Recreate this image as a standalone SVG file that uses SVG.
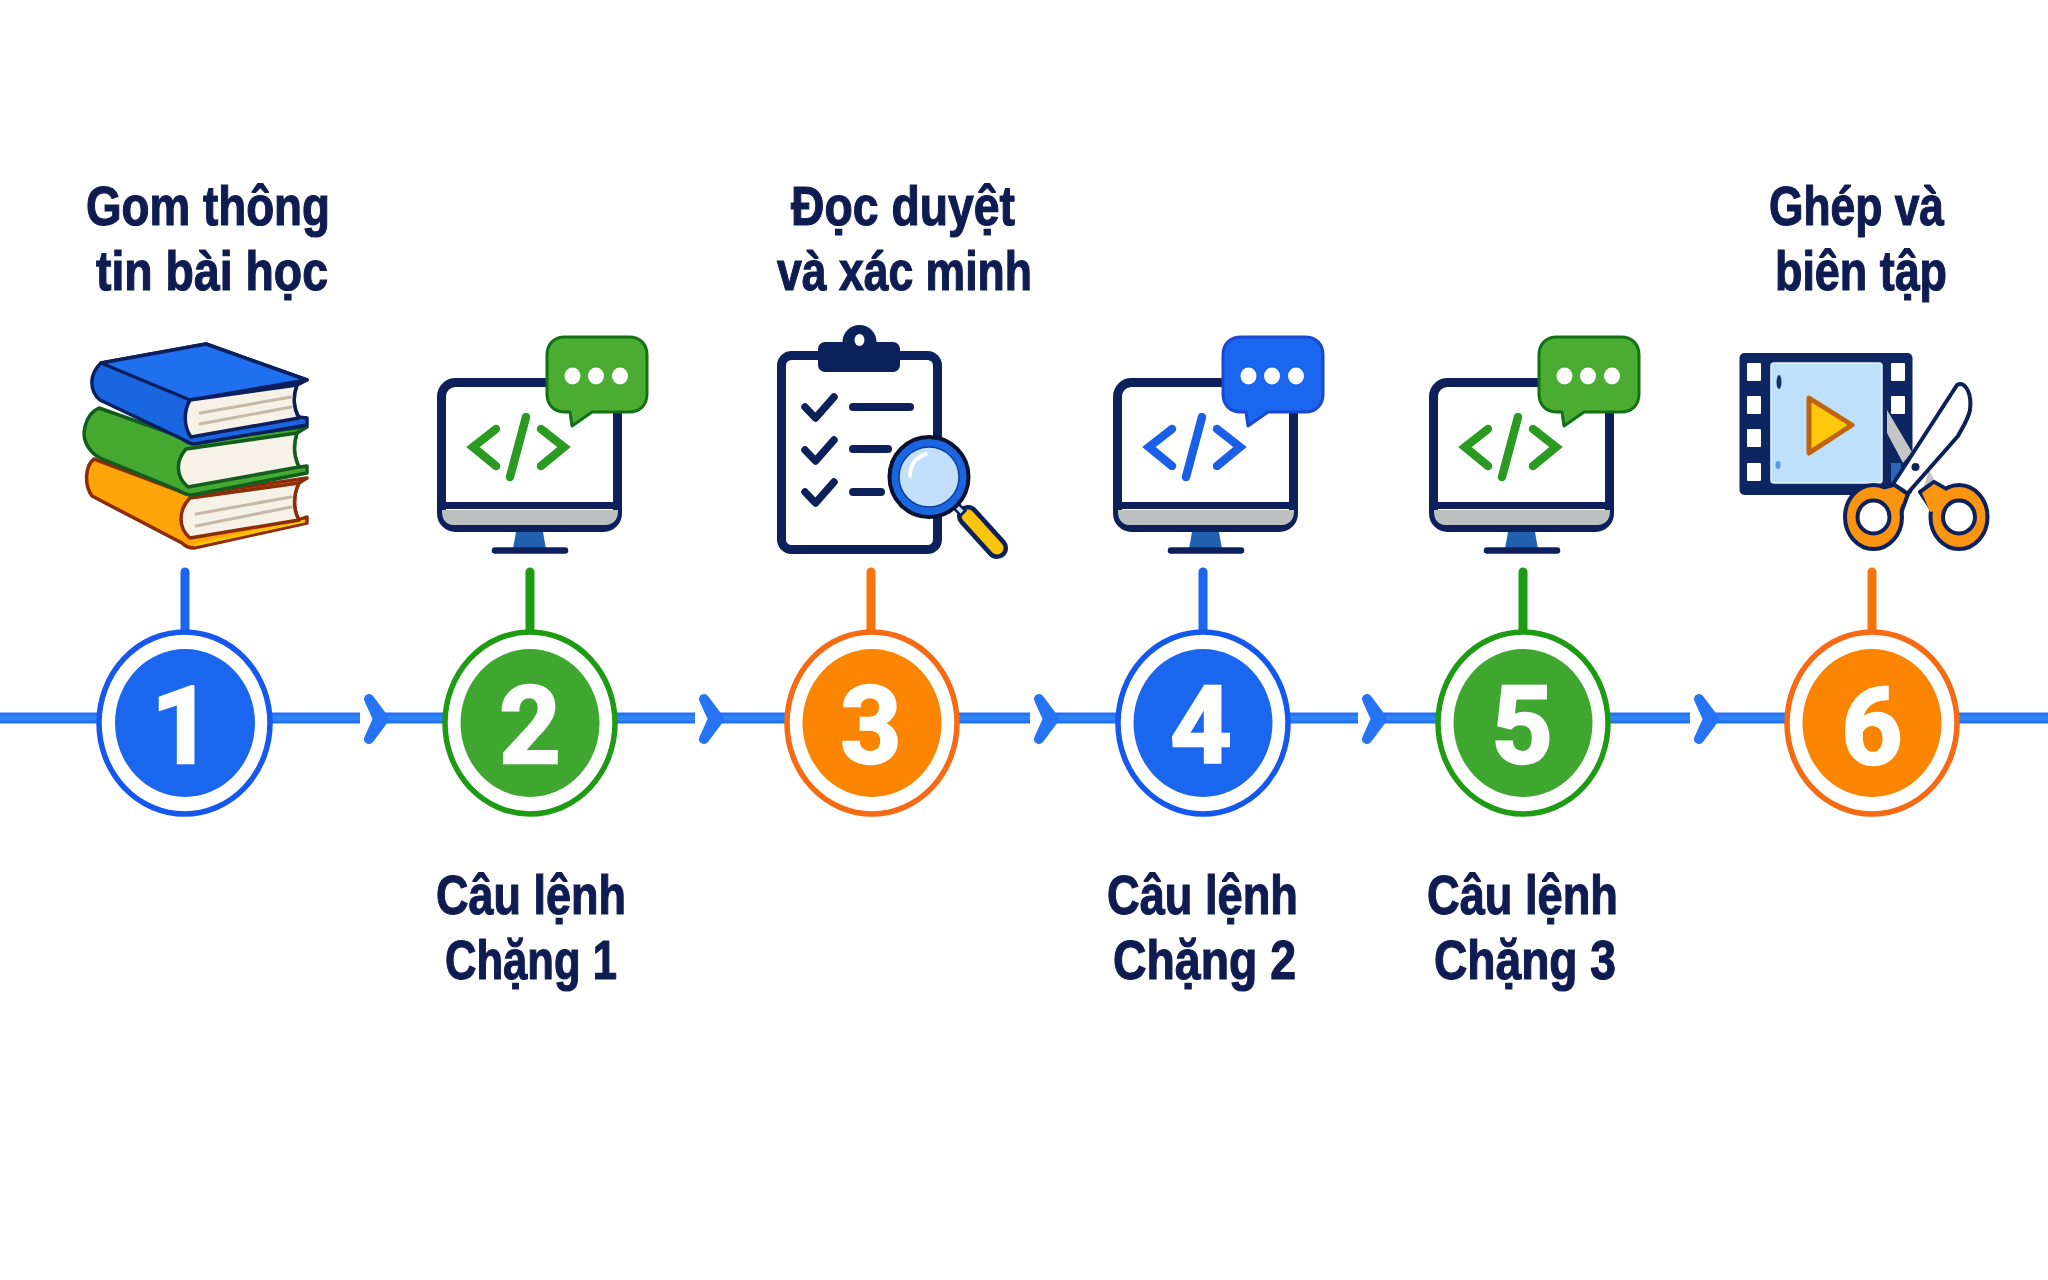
<svg xmlns="http://www.w3.org/2000/svg" xmlns:xlink="http://www.w3.org/1999/xlink" width="2048" height="1280" viewBox="0 0 2048 1280">
<style>
.lbl{font-family:"Liberation Sans",Arial,sans-serif;font-weight:700;font-size:56px;fill:#0f1c52;stroke:#0f1c52;stroke-width:1.2;text-anchor:start}
.num{font-family:Roboto,"Liberation Sans",sans-serif;font-weight:700;font-size:107px;fill:#fff;stroke:#fff;stroke-width:2.5;text-anchor:middle}
.line{stroke:#2272f2;stroke-width:11;fill:none}
.line2{stroke:#3085f9;stroke-width:5;fill:none}
.chev{fill:#2674f4;stroke:#2674f4;stroke-width:10;stroke-linejoin:round}
.stem{stroke-width:9;stroke-linecap:round;fill:none}
.ring{fill:#fff;stroke-width:5.5}
.blue .ring{stroke:#1558ee}.blue .disc{fill:#1a66ee}.blue .stem{stroke:#1a66ee}
.green .ring{stroke:#1f9a14}.green .disc{fill:#3fa72f}.green .stem{stroke:#1f9a14}
.orange .ring{stroke:#f56a12}.orange .disc{fill:#fb8500}.orange .stem{stroke:#f9750c}
.nv{stroke:#0c215c;fill:none;stroke-linecap:round;stroke-linejoin:round}
.pg{fill:#f7f2e8;stroke-width:3.5;stroke-linejoin:round}
.pl{stroke:#c4b9a8;stroke-width:3;stroke-linecap:round;fill:none}
.code{stroke:var(--c);stroke-width:8.5;stroke-linecap:round;stroke-linejoin:miter;fill:none}
.mg{--c:#2a9a20;--e:#157015;--f:#4aac30}
.mb{--c:#1a5fe8;--e:#1a48d0;--f:#1a66ee}
.o{fill:#fb9410}
.ol{fill:#fb9410;stroke:#0c215c;stroke-width:4;stroke-linejoin:round}
</style>
<defs>
<path id="chevron" class="chev" d="M-21 -20L-6 0L-21 20L-12 0Z"/>
<g id="monitor">
<rect x="441.500" y="382.500" width="176" height="145" rx="14" fill="#fff" stroke="#0c215c" stroke-width="9"/>
<path d="M442 510H618V512C618 520 612 525 606 525H453C447 525 442 520 442 512Z" fill="#bcbfc0"/>
<path d="M440 505.500H619" stroke="#0c215c" stroke-width="7" fill="none"/>
<path d="M516 532H543L546 549H513Z" fill="#2060ae"/>
<path d="M495 550.500H565" stroke="#0c215c" stroke-width="6.500" stroke-linecap="round" fill="none"/>
<path class="code" d="M496 429L473 447L496 466M526 417L510 477M541 429L564 447L541 466"/>
<path d="M565 337H629C640 337 647 344 647 355V394C647 405 640 412 629 412H592L572 426L570 412H565C554 412 547 405 547 394V355C547 344 554 337 565 337Z" fill="var(--f)" stroke="var(--e)" stroke-width="3" stroke-linejoin="round"/>
<ellipse cx="572.500" cy="376" rx="8" ry="8.500" fill="#fff"/><ellipse cx="596" cy="376" rx="8" ry="8.500" fill="#fff"/><ellipse cx="620" cy="376" rx="8" ry="8.500" fill="#fff"/>
</g>
</defs>
<rect width="2048" height="1280" fill="#fff"/>
<g id="connectors">
<path class="line" d="M0 718H97M272 718H360M384 718H443M617 718H695M719 718H785M959 718H1030M1054 718H1116M1290 718H1358M1382 718H1436M1610 718H1690M1714 718H1786M1959 718H2048"/>
<path class="line2" d="M0 718H97M272 718H360M384 718H443M617 718H695M719 718H785M959 718H1030M1054 718H1116M1290 718H1358M1382 718H1436M1610 718H1690M1714 718H1786M1959 718H2048"/>
<use href="#chevron" xlink:href="#chevron" x="390" y="719"/>
<use href="#chevron" xlink:href="#chevron" x="725" y="719"/>
<use href="#chevron" xlink:href="#chevron" x="1060" y="719"/>
<use href="#chevron" xlink:href="#chevron" x="1388" y="719"/>
<use href="#chevron" xlink:href="#chevron" x="1720" y="719"/>
</g>
<g id="node1" class="blue">
<text class="lbl" x="86" y="225" textLength="244" lengthAdjust="spacingAndGlyphs">Gom thông</text>
<text class="lbl" x="96" y="290" textLength="232" lengthAdjust="spacingAndGlyphs">tin bài học</text>
<g id="books">
<path d="M94 459C85 466 84 485 92 496L182 543C186 547 190 548 194 548L307 523L307 517L299 520C293 510 293 495 299 483L307 478L190 495Z" fill="#ffa50a" stroke="#8c2c0a" stroke-width="3.500" stroke-linejoin="round"/>
<path d="M194 545L305 521" stroke="#ffc400" stroke-width="3" fill="none"/>
<path class="pg" stroke="#8c2c0a" d="M299 483L190 498C178 510 178 528 190 538L299 520C293 510 293 495 299 483Z"/>
<path class="pl" d="M196 514L291 497M196 526L291 507"/>
<path d="M99 408C84 415 82 435 86 443C90 452 95 455 100 458L178 490C184 494 188 495 192 495L307 473L307 466L299 467C293 455 293 445 297 433L307 427L190 440Z" fill="#45a830" stroke="#125c1e" stroke-width="3.500" stroke-linejoin="round"/>
<path class="pg" stroke="#125c1e" d="M297 433L186 449C176 460 175 476 188 487L299 467C293 455 293 445 297 433Z"/>
<path d="M206 344L307 380L297 385C293 395 293 408 299 417L307 418L307 425L194 444C190 444 186 441 180 438L100 400C90 392 88 375 101 363Z" fill="#1a66e0" stroke="#0c1f5c" stroke-width="3.500" stroke-linejoin="round"/>
<path d="M206 344L307 380L190 400L101 363Z" fill="#1f70ee" stroke="#0c1f5c" stroke-width="3.500" stroke-linejoin="round"/>
<path class="pg" stroke="#0c1f5c" d="M297 385L190 400C184 410 183 426 191 437L299 418C293 408 293 395 297 385Z"/>
<path class="pl" d="M200 413L291 397M200 424L291 407"/>
</g>
<path class="stem" d="M185 572V631"/>
<ellipse class="ring" cx="184.500" cy="723" rx="85.500" ry="91"/>
<ellipse class="disc" cx="185" cy="723" rx="70" ry="74"/>
<text class="num" x="182" y="763">1</text>
</g>
<g id="node2" class="green">
<use xlink:href="#monitor" href="#monitor" class="mg"/>
<path class="stem" d="M530 572V631"/>
<ellipse class="ring" cx="530" cy="723" rx="85" ry="91"/>
<ellipse class="disc" cx="530" cy="723" rx="69.500" ry="74"/>
<text class="num" x="530" y="763">2</text>
<text class="lbl" x="436" y="914" textLength="190" lengthAdjust="spacingAndGlyphs">Câu lệnh</text>
<text class="lbl" x="445" y="979" textLength="172" lengthAdjust="spacingAndGlyphs">Chặng 1</text>
</g>
<g id="node3" class="orange">
<text class="lbl" x="791" y="225" textLength="224" lengthAdjust="spacingAndGlyphs">Đọc duyệt</text>
<text class="lbl" x="777" y="290" textLength="255" lengthAdjust="spacingAndGlyphs">và xác minh</text>
<g id="clipboard">
<rect x="781.500" y="355.500" width="156" height="194" rx="10" fill="#fff" stroke="#0c215c" stroke-width="9"/>
<circle cx="859.500" cy="342" r="17" fill="#0c215c"/>
<rect x="818" y="342" width="82" height="30" rx="7" fill="#0c215c"/>
<ellipse cx="859.500" cy="340" rx="5" ry="6" fill="#fff"/>
<path class="nv" stroke-width="7.500" d="M805 407L815.500 418L834 397M805 450L815.500 461L834 440M805 492L815.500 503L834 482"/>
<path class="nv" stroke-width="8" d="M853 407H910M853 449H888M853 492H881"/>
<path d="M968 516L997 548" stroke="#0c215c" stroke-width="22" stroke-linecap="round" fill="none"/>
<path d="M968 516L997 548" stroke="#fcc40a" stroke-width="13" stroke-linecap="round" fill="none"/>
<path d="M955 505L964 514" stroke="#0c215c" stroke-width="9" fill="none"/>
<path d="M956 506L962 512" stroke="#cfe6fb" stroke-width="4" fill="none"/>
<ellipse cx="929" cy="477" rx="39.500" ry="40" fill="#1a66e0" stroke="#0a1230" stroke-width="4"/>
<ellipse cx="929" cy="477" rx="30" ry="30" fill="#c2e0fb" stroke="#0f3f9a" stroke-width="1.500"/>
<path d="M910 476C910 465 916 457 926 454" stroke="#fff" stroke-width="4" stroke-linecap="round" fill="none"/>
</g>
<path class="stem" d="M871 572V631"/>
<ellipse class="ring" cx="872" cy="723" rx="85" ry="91"/>
<ellipse class="disc" cx="872" cy="723" rx="69.500" ry="74"/>
<text class="num" x="871" y="763">3</text>
</g>
<g id="node4" class="blue">
<use xlink:href="#monitor" href="#monitor" class="mb" x="676"/>
<path class="stem" d="M1203 572V631"/>
<ellipse class="ring" cx="1203" cy="723" rx="85" ry="91"/>
<ellipse class="disc" cx="1203" cy="723" rx="69.500" ry="74"/>
<text class="num" x="1201" y="763">4</text>
<text class="lbl" x="1107" y="914" textLength="191" lengthAdjust="spacingAndGlyphs">Câu lệnh</text>
<text class="lbl" x="1113" y="979" textLength="183" lengthAdjust="spacingAndGlyphs">Chặng 2</text>
</g>
<g id="node5" class="green">
<use xlink:href="#monitor" href="#monitor" class="mg" x="992"/>
<path class="stem" d="M1523 572V631"/>
<ellipse class="ring" cx="1523" cy="723" rx="85" ry="91"/>
<ellipse class="disc" cx="1523" cy="723" rx="69.500" ry="74"/>
<text class="num" x="1522" y="763">5</text>
<text class="lbl" x="1427" y="914" textLength="191" lengthAdjust="spacingAndGlyphs">Câu lệnh</text>
<text class="lbl" x="1434" y="979" textLength="182" lengthAdjust="spacingAndGlyphs">Chặng 3</text>
</g>
<g id="node6" class="orange">
<text class="lbl" x="1769" y="225" textLength="175" lengthAdjust="spacingAndGlyphs">Ghép và</text>
<text class="lbl" x="1775" y="290" textLength="172" lengthAdjust="spacingAndGlyphs">biên tập</text>
<g id="film">
<rect x="1739.500" y="353" width="173" height="142" rx="5" fill="#0d2560"/>
<rect x="1771" y="363" width="111" height="120" rx="3" fill="#bfe0fa" stroke="#e6f3fd" stroke-width="1.500"/>
<g fill="#fff"><rect x="1747" y="363" width="14" height="18" rx="1"/><rect x="1747" y="396" width="14" height="18" rx="1"/><rect x="1747" y="429" width="14" height="18" rx="1"/><rect x="1747" y="463" width="14" height="18" rx="1"/><rect x="1891" y="363" width="14" height="18" rx="1"/><rect x="1891" y="396" width="14" height="18" rx="1"/></g>
<ellipse cx="1779" cy="382" rx="2.500" ry="7" fill="#15306e"/>
<ellipse cx="1778" cy="465" rx="2.500" ry="4" fill="#5a9be8"/>
<path d="M1809 398L1852 425L1809 453Z" fill="#fdc90a" stroke="#c0640f" stroke-width="5" stroke-linejoin="round"/>
<rect x="1891" y="463" width="10" height="20" fill="#2f66b8"/>
<path d="M1887 410L1912 452L1903 463L1887 433Z" fill="#c4c6c6"/>
<path d="M1929 470L1937 484L1923 490Z" fill="#c4c6c6"/>
<path class="ol" d="M1934 482L1948 490L1936 516L1920 492Z"/>
<ellipse class="ol" cx="1959" cy="517" rx="28.500" ry="32"/>
<path class="o" d="M1934 484L1948 492L1945 510L1930 512L1922 493Z"/>
<ellipse cx="1959" cy="517" rx="16" ry="16.500" fill="#fff" stroke="#0c215c" stroke-width="4"/>
<path d="M1957 385C1966 380 1972 395 1970 410C1968 420 1962 428 1958 436L1907 494L1893 484Z" fill="#fff" stroke="#0c215c" stroke-width="4" stroke-linejoin="round"/>
<path class="ol" d="M1893 484L1908 494L1900 516L1885 504Z"/>
<ellipse class="ol" cx="1873.500" cy="517" rx="28.500" ry="32"/>
<path class="o" d="M1894 487L1905 495L1899 512L1884 510L1882 490Z"/>
<ellipse cx="1873.500" cy="517" rx="16" ry="16.500" fill="#fff" stroke="#0c215c" stroke-width="4"/>
<circle cx="1915.500" cy="467" r="4" fill="#0c215c"/>
</g>
<path class="stem" d="M1872 572V631"/>
<ellipse class="ring" cx="1872" cy="723" rx="85" ry="91"/>
<ellipse class="disc" cx="1872" cy="723" rx="69.500" ry="74"/>
<text class="num" x="1872" y="764">6</text>
</g>
</svg>
